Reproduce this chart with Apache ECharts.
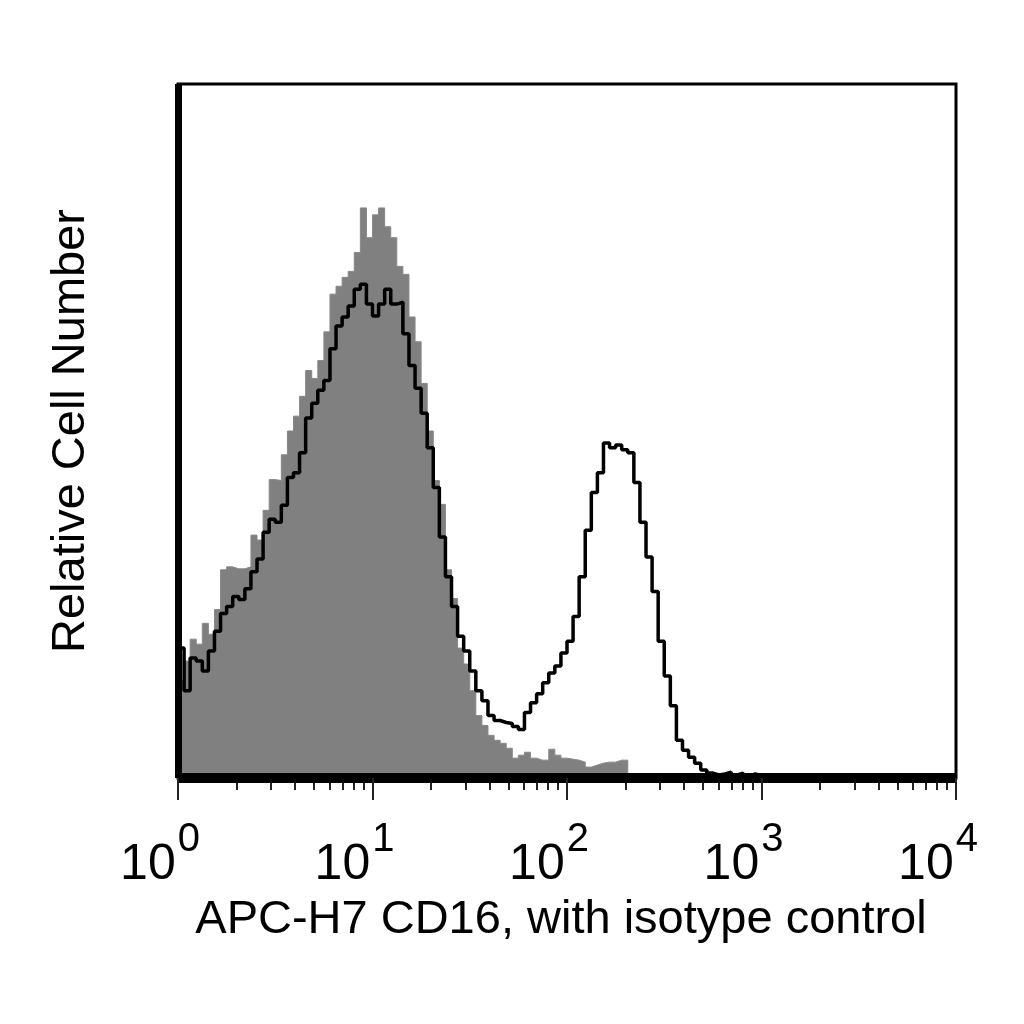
<!DOCTYPE html>
<html>
<head>
<meta charset="UTF-8">
<title>APC-H7 CD16</title>
<style type="text/css">
html, body {
	width: 100%;
	height: 100%;
	padding: 0px;
	margin: 0px;
	background: #fff;
}
</style>
<script src="https://cdn.jsdelivr.net/npm/echarts@6.0.0/dist/echarts.min.js"></script>
</head>
<body>
	<div id="chart" style="width: 1024px; height: 1024px;"></div>

	<script type="text/javascript">
        // log axis: 4 decades, 32 channels per decade
        var decades = [0, 1, 2, 3, 4];
        var binsPerDecade = 32;
        var minorSteps = [2, 3, 4, 5, 6, 7, 8, 9];

        // isotype control (filled grey)
        var isotypeCounts = [
            98, 118, 140, 135, 156, 145, 170, 210, 213, 211,
            211, 213, 245, 240, 270, 301, 300, 326, 350, 365,
            385, 411, 403, 421, 450, 488, 496, 505, 511, 530,
            575, 545, 568, 575, 556, 545, 516, 508, 465, 440,
            398, 350, 300, 276, 210, 181, 131, 115, 88, 63,
            53, 43, 38, 35, 30, 20, 23, 26, 20, 18,
            18, 29, 23, 20, 19, 18, 16, 11, 13, 15,
            16, 16, 18, 18, 2, 1, 0, 0, 0, 0,
            0, 0, 0, 0, 0, 0, 0, 0, 0, 0,
            0, 0, 0, 0, 0, 0, 0, 0, 0, 0,
            0, 0, 0, 0, 0, 0, 0, 0, 0, 0,
            0, 0, 0, 0, 0, 0, 0, 0, 0, 0,
            0, 0, 0, 0, 0, 0, 0, 0
        ];

        // APC-H7 CD16 stained (black outline)
        var cd16Counts = [
            131, 88, 121, 118, 108, 128, 148, 166, 173, 183,
            180, 191, 208, 221, 248, 261, 258, 275, 303, 308,
            328, 363, 378, 391, 401, 433, 456, 465, 476, 493,
            498, 478, 466, 478, 493, 478, 480, 448, 416, 393,
            368, 333, 293, 243, 203, 173, 143, 128, 108, 88,
            78, 63, 58, 56, 55, 52, 49, 66, 76, 85,
            96, 106, 113, 126, 138, 163, 203, 250, 288, 308,
            338, 333, 336, 331, 328, 298, 258, 223, 188, 138,
            103, 73, 38, 28, 21, 15, 8, 5, 3, 4,
            6, 3, 5, 2, 4, 2, 1, 2, 1, 0,
            0, 0, 0, 0, 0, 0, 0, 0, 0, 0,
            0, 0, 0, 0, 0, 0, 0, 0, 0, 0,
            0, 0, 0, 0, 0, 0, 0, 0
        ];

        var xTitle = 'APC-H7 CD16, with isotype control';
        var yTitle = 'Relative Cell Number';

        var font = 'Liberation Sans, Arial, Helvetica, sans-serif';

        // channel index -> [log10 position, count], extra point closes last step
        function toSteps(counts) {
            var out = [];
            for (var i = 0; i < counts.length; i++) {
                out.push([i / binsPerDecade, counts[i]]);
            }
            out.push([counts.length / binsPerDecade, counts[counts.length - 1]]);
            return out;
        }

        var minorTicks = [];
        for (var d = 0; d < decades.length - 1; d++) {
            for (var k = 0; k < minorSteps.length; k++) {
                minorTicks.push(decades[d] + Math.log10(minorSteps[k]));
            }
        }

        var myChart = echarts.init(document.getElementById('chart'));

        var option = {
            animation: false,
            backgroundColor: '#fff',
            grid: {
                left: 178, right: 68, top: 84, bottom: 246,
                show: true, borderColor: '#000', borderWidth: 3
            },
            xAxis: [{
                type: 'value', min: decades[0], max: decades[decades.length - 1], interval: 1, z: 10,
                name: xTitle, nameLocation: 'middle', nameGap: 119,
                nameTextStyle: { fontFamily: font, fontSize: 47, color: '#000', padding: [0, 12, 0, 0] },
                axisLine: { show: true, onZero: false, lineStyle: { color: '#000', width: 10, cap: 'butt' } },
                axisTick: { show: true, inside: false, length: 22, lineStyle: { color: '#222', width: 2 } },
                axisLabel: {
                    margin: 62, showMinLabel: true, showMaxLabel: true,
                    align: 'center', padding: [0, 36, 0, 0],
                    formatter: function (v) { return '{b|10}{s|' + v + '}'; },
                    rich: {
                        b: { fontFamily: font, fontSize: 50, lineHeight: 50, color: '#000', verticalAlign: 'bottom' },
                        s: { fontFamily: font, fontSize: 40, lineHeight: 40, color: '#000', verticalAlign: 'bottom', padding: [0, 0, 30, 2] }
                    }
                },
                splitLine: { show: false }
            }, {
                type: 'value', min: decades[0], max: decades[decades.length - 1], position: 'bottom', z: 9,
                axisLine: { show: false },
                axisLabel: { show: false },
                splitLine: { show: false },
                axisTick: { show: true, inside: false, length: 12, customValues: minorTicks, lineStyle: { color: '#222', width: 2 } }
            }],
            yAxis: {
                type: 'value', min: 0, max: 700, z: 10,
                name: yTitle, nameLocation: 'middle', nameGap: 83, nameRotate: 90,
                nameTextStyle: { fontFamily: font, fontSize: 47, color: '#000' },
                axisLine: { show: true, lineStyle: { color: '#000', width: 7, cap: 'butt' } },
                axisTick: { show: false },
                axisLabel: { show: false },
                splitLine: { show: false }
            },
            series: [{
                name: 'isotype',
                type: 'line', step: 'end', symbol: 'none', z: 2,
                data: toSteps(isotypeCounts),
                lineStyle: { color: '#888', width: 1 },
                areaStyle: { color: '#808080', opacity: 1 }
            }, {
                name: 'CD16',
                type: 'line', step: 'end', symbol: 'none', z: 3,
                data: toSteps(cd16Counts),
                lineStyle: { color: '#000', width: 3.5 }
            }]
        };

        myChart.setOption(option);
	</script>
</body>
</html>
